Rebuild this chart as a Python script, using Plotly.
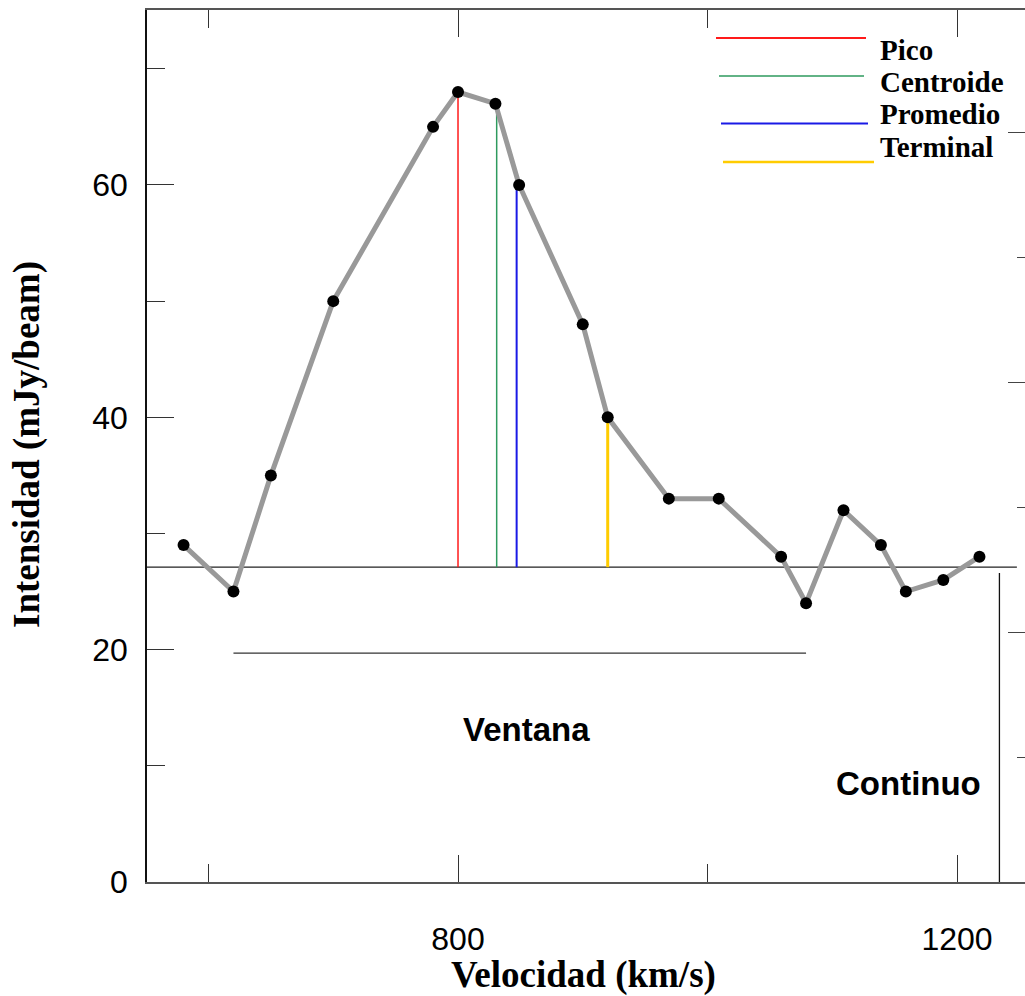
import plotly.graph_objects as go

# ---------------- data ----------------
velocity = [580, 620, 650, 700, 780, 800, 830, 849, 900, 920, 969, 1009,
            1059, 1079, 1109, 1139, 1159, 1189, 1218]
intensity = [29, 25, 35, 50, 65, 68, 67, 60, 48, 40, 33, 33,
             28, 24, 32, 29, 25, 26, 28]

measure_names = ["Pico", "Centroide", "Promedio", "Terminal"]
measure_vel = [800, 831, 847, 920]
measure_top = [68, 67, 60, 40]
measure_colors = ["#ff1a1a", "#2e9a5e", "#1a1ae6", "#ffcc00"]
measure_widths = [1.5, 1.5, 2, 3]

continuum_level = 27.1
continuum_x = [550.7, 1248]
window_level = 19.7
window_x = [620, 1079]
continuum_mark_vel = 1234
continuum_mark_top = 26.6

xrange_ = [550.7, 1254.5]
yrange_ = [0, 75.06]

# ---------------- figure ----------------
W, H = 1025, 996
L, R, T, B = 147, 0, 10, 114
PW, PH = W - L - R, H - T - B


def px(xp):
    return (xp - L) / PW


def py(yp):
    return (H - B - yp) / PH


fig = go.Figure()

# continuum baseline
fig.add_trace(go.Scatter(x=continuum_x, y=[continuum_level] * 2, mode="lines",
                         line=dict(color="#222222", width=1.3), showlegend=False))
# window line
fig.add_trace(go.Scatter(x=window_x, y=[window_level] * 2, mode="lines",
                         line=dict(color="#333333", width=1.3), showlegend=False))
# continuum vertical marker
fig.add_trace(go.Scatter(x=[continuum_mark_vel] * 2, y=[0, continuum_mark_top], mode="lines",
                         line=dict(color="#111111", width=1.3), showlegend=False))

# measure vertical lines
for n, v, t, c, w in zip(measure_names, measure_vel, measure_top, measure_colors, measure_widths):
    fig.add_trace(go.Scatter(x=[v, v], y=[continuum_level, t], mode="lines",
                             line=dict(color=c, width=w), showlegend=False, name=n))

# spectrum
fig.add_trace(go.Scatter(x=velocity, y=intensity, mode="lines+markers",
                         line=dict(color="#999999", width=5),
                         marker=dict(color="black", size=12),
                         showlegend=False))

# invisible trace for right axis
fig.add_trace(go.Scatter(x=[xrange_[0]], y=[0], yaxis="y2", mode="markers",
                         marker=dict(opacity=0), showlegend=False, hoverinfo="skip"))

# legend (drawn manually)
legend_line_px = [(716, 866, 38), (719, 864, 76), (721, 868, 123.5), (723, 874, 162)]
legend_text_py = [50, 82, 114, 147]
for (x0, x1, yy), c, w in zip(legend_line_px, measure_colors, [2, 1.5, 2, 2.5]):
    fig.add_shape(type="line", xref="paper", yref="paper",
                  x0=px(x0), x1=px(x1), y0=py(yy), y1=py(yy),
                  line=dict(color=c, width=w))
for n, yy in zip(measure_names, legend_text_py):
    fig.add_annotation(xref="paper", yref="paper", x=px(878), y=py(yy),
                       xanchor="left", yanchor="middle", showarrow=False,
                       text=f"<b>{n}</b>",
                       font=dict(family="Liberation Serif", size=29, color="black"))

# text labels
fig.add_annotation(x=855, y=13.1, text="<b>Ventana</b>", showarrow=False,
                   font=dict(family="Liberation Sans", size=33, color="black"))
fig.add_annotation(x=1161, y=8.5, text="<b>Continuo</b>", showarrow=False,
                   font=dict(family="Liberation Sans", size=33, color="black"))

# axis titles
fig.add_annotation(xref="paper", yref="paper", x=px(583), y=py(975),
                   xanchor="center", yanchor="middle", showarrow=False,
                   text="<b>Velocidad (km/s)</b>",
                   font=dict(family="Liberation Serif", size=37, color="black"))
fig.add_annotation(xref="paper", yref="paper", x=px(27), y=py(445),
                   xanchor="center", yanchor="middle", showarrow=False, textangle=-90,
                   text="<b>Intensidad (mJy/beam)</b>",
                   font=dict(family="Liberation Serif", size=37, color="black"))

fig.update_layout(
    width=W, height=H,
    margin=dict(l=L, r=R, t=T, b=B, pad=0),
    paper_bgcolor="white", plot_bgcolor="white",
    xaxis=dict(range=xrange_, tickmode="linear", tick0=0, dtick=400,
               ticks="inside", ticklen=27, tickwidth=1.3, tickcolor="#333333",
               minor=dict(tickmode="linear", tick0=0, dtick=200, ticks="inside",
                          ticklen=18, tickwidth=1.3, tickcolor="#333333"),
               showline=True, linecolor="#555555", linewidth=2, mirror="ticks",
               showgrid=False, zeroline=False,
               tickfont=dict(family="Liberation Sans", size=32, color="black"),
               ticklabelstandoff=28),
    yaxis=dict(range=yrange_, tickmode="linear", tick0=0, dtick=20,
               ticks="inside", ticklen=27, tickwidth=1.3, tickcolor="#333333",
               minor=dict(tickmode="linear", tick0=0, dtick=10, ticks="inside",
                          ticklen=18, tickwidth=1.3, tickcolor="#333333"),
               showline=True, linecolor="#111111", linewidth=1.5, mirror=False,
               showgrid=False, zeroline=False,
               tickfont=dict(family="Liberation Sans", size=32, color="black"),
               ticklabelstandoff=11),
    yaxis2=dict(overlaying="y", side="right", range=[0, 872 / 249.8],
                tickmode="linear", tick0=0, dtick=1,
                ticks="inside", ticklen=17, tickwidth=1.3, tickcolor="#444444",
                minor=dict(tickmode="linear", tick0=0, dtick=0.5, ticks="inside",
                           ticklen=8, tickwidth=1.3, tickcolor="#444444"),
                showticklabels=False, showline=False, showgrid=False, zeroline=False),
)

fig.write_html("out.html")
